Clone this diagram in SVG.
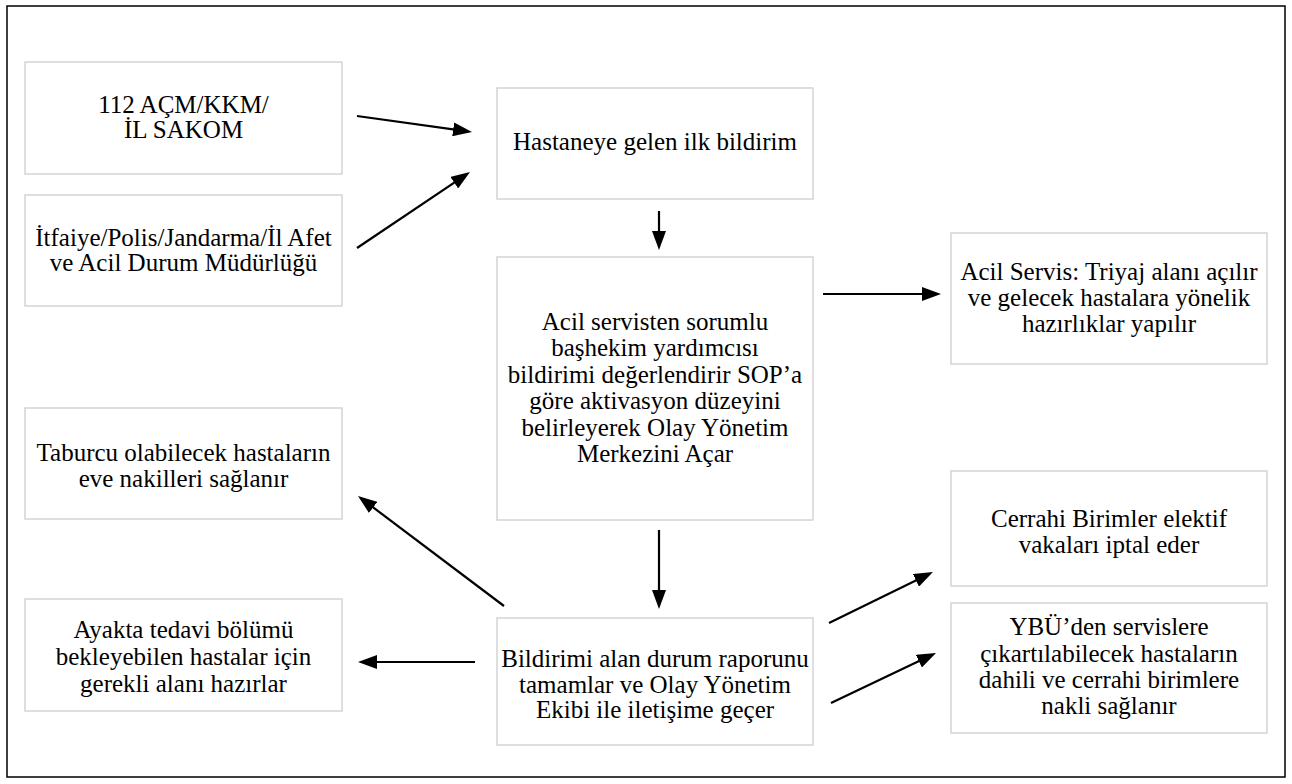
<svg xmlns="http://www.w3.org/2000/svg" width="1292" height="784" viewBox="0 0 1292 784">
<defs>
<style>
.box{fill:#fff;stroke:#d4d4d4;stroke-width:1.5}
.c{stroke:#000;stroke-width:2.2;fill:none;marker-end:url(#ah)}
</style>
<marker id="ah" viewBox="0 0 19 14" refX="9" refY="7" markerWidth="19" markerHeight="14" markerUnits="userSpaceOnUse" orient="auto">
<path d="M0,0 L19,7 L0,14 z" fill="#000"/>
</marker>
</defs>
<rect x="0" y="0" width="1292" height="784" fill="#fff"/>
<rect x="7" y="6" width="1278" height="771" fill="none" stroke="#000" stroke-width="1.5"/>

<g id="nodes" font-family="Liberation Serif" font-size="25" fill="#000" text-anchor="middle">
<g id="n1"><rect class="box" x="25" y="62" width="317" height="112"/>
<text x="183.5" y="113">112 AÇM/KKM/</text><text x="183.5" y="138">İL SAKOM</text></g>

<g id="n2"><rect class="box" x="25" y="195" width="317" height="111"/>
<text x="183.5" y="246">İtfaiye/Polis/Jandarma/İl Afet</text><text x="183.5" y="271">ve Acil Durum Müdürlüğü</text></g>

<g id="n3"><rect class="box" x="497" y="88" width="316" height="111"/>
<text x="655" y="150">Hastaneye gelen ilk bildirim</text></g>

<g id="n4"><rect class="box" x="497" y="257" width="316" height="263"/>
<text x="655" y="330">Acil servisten sorumlu</text>
<text x="655" y="356.4">başhekim yardımcısı</text>
<text x="655" y="382.8">bildirimi değerlendirir SOP’a</text>
<text x="655" y="409.2">göre aktivasyon düzeyini</text>
<text x="655" y="435.6">belirleyerek Olay Yönetim</text>
<text x="655" y="462">Merkezini Açar</text></g>

<g id="n5"><rect class="box" x="951" y="233" width="316" height="131"/>
<text x="1109" y="280">Acil Servis: Triyaj alanı açılır</text>
<text x="1109" y="306">ve gelecek hastalara yönelik</text>
<text x="1109" y="332">hazırlıklar yapılır</text></g>

<g id="n6"><rect class="box" x="25" y="408" width="317" height="111"/>
<text x="183.5" y="461">Taburcu olabilecek hastaların</text>
<text x="183.5" y="487">eve nakilleri sağlanır</text></g>

<g id="n7"><rect class="box" x="25" y="599" width="317" height="112"/>
<text x="183.5" y="638">Ayakta tedavi bölümü</text>
<text x="183.5" y="665">bekleyebilen hastalar için</text>
<text x="183.5" y="692">gerekli alanı hazırlar</text></g>

<g id="n8"><rect class="box" x="497" y="618" width="316" height="127"/>
<text x="655" y="667">Bildirimi alan durum raporunu</text>
<text x="655" y="693">tamamlar ve Olay Yönetim</text>
<text x="655" y="718">Ekibi ile iletişime geçer</text></g>

<g id="n9"><rect class="box" x="951" y="471" width="316" height="115"/>
<text x="1109" y="527">Cerrahi Birimler elektif</text>
<text x="1109" y="553">vakaları iptal eder</text></g>

<g id="n10"><rect class="box" x="951" y="603" width="316" height="130"/>
<text x="1109" y="635">YBÜ’den servislere</text>
<text x="1109" y="662">çıkartılabilecek hastaların</text>
<text x="1109" y="688">dahili ve cerrahi birimlere</text>
<text x="1109" y="714">nakli sağlanır</text></g>
</g>

<g id="connectors">
<line class="c" x1="357" y1="116" x2="462.1" y2="130.6"/>
<line class="c" x1="357" y1="248" x2="461.7" y2="177.6"/>
<line class="c" x1="659" y1="211" x2="659" y2="240"/>
<line class="c" x1="823" y1="294" x2="931" y2="294"/>
<line class="c" x1="659" y1="530" x2="659" y2="599"/>
<line class="c" x1="504" y1="606" x2="366" y2="502"/>
<line class="c" x1="475" y1="662" x2="368" y2="662"/>
<line class="c" x1="829" y1="623" x2="924" y2="576.4"/>
<line class="c" x1="831" y1="703" x2="927" y2="657.3"/>
</g>
</svg>
